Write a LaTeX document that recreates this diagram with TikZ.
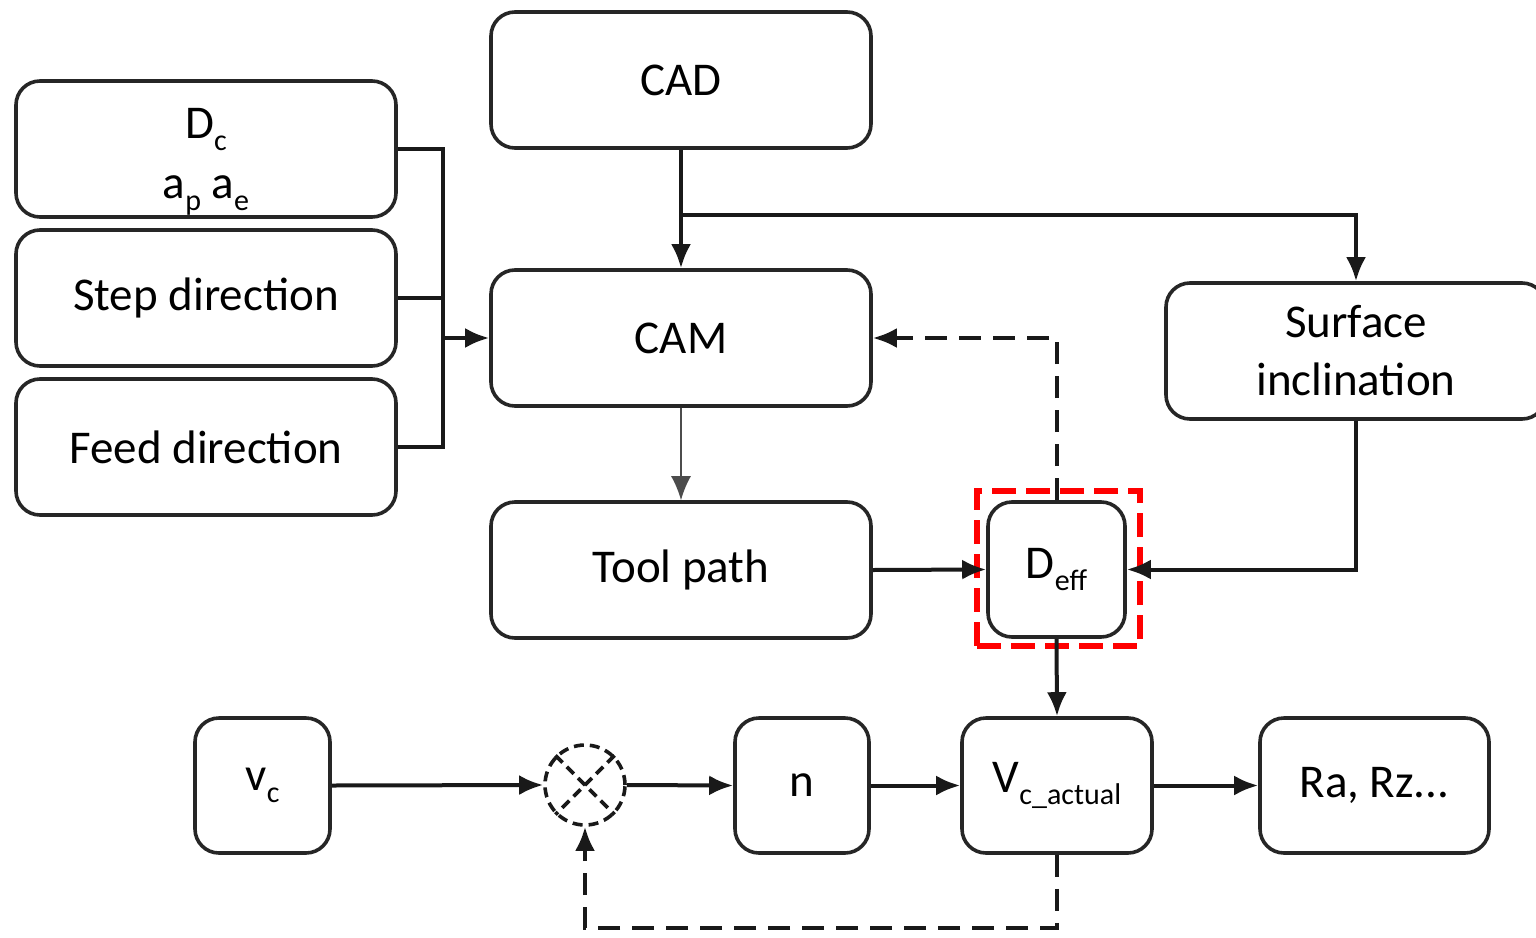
\documentclass[tikz,border=0pt]{standalone}
\usepackage{fontspec}
\setmainfont{Carlito}
\usetikzlibrary{arrows.meta,positioning}
\newcommand\lowsub[1]{\raisebox{-0.55ex}{\fontsize{15}{15}\selectfont #1}}
\tikzset{
  box/.style={draw=black!85, line width=1.8pt, rounded corners=12pt, fill=white,
    font=\fontsize{23.5}{29}\selectfont, align=center, inner sep=0pt},
  conn/.style={line width=2pt, draw=black!90, -{Latex[length=12pt,width=10pt]}},
  plain/.style={line width=2pt, draw=black!90},
  dashconn/.style={conn, dash pattern=on 11pt off 6pt},
}
\begin{document}
\begin{tikzpicture}[x=0.5pt,y=-0.5pt]
\useasboundingbox (0,0) rectangle (1536,937);
% boxes
\node[box, minimum width=190pt, minimum height=68pt] (dc) at (206,149) {\raisebox{-10pt}[0pt][0pt]{\begin{tabular}{@{}c@{}}D\lowsub{c}\\[1pt]a\lowsub{p} a\lowsub{e}\end{tabular}}};
\node[box, minimum width=190pt, minimum height=68pt] (step) at (206,298) {Step direction};
\node[box, minimum width=190pt, minimum height=68pt] (feed) at (206,447) {Feed direction};
\node[box, minimum width=190pt, minimum height=68pt] (cad) at (681,80) {CAD};
\node[box, minimum width=190pt, minimum height=68pt] (cam) at (681,338) {CAM};
\node[box, minimum width=190pt, minimum height=68pt] (tool) at (681,570) {Tool path};
\node[box, minimum width=190pt, minimum height=68pt] (surf) at (1356,351) {Surface\\inclination};
\node[box, minimum width=68.5pt, minimum height=67.5pt] (deff) at (1056.5,569.5) {D\lowsub{eff}};
\node[draw=red, line width=2.8pt, dash pattern=on 12pt off 5pt, minimum width=81.5pt, minimum height=77.5pt, inner sep=0pt] (red) at (1058.5,568.5) {};
\node[box, minimum width=67.5pt, minimum height=67.5pt] (vc) at (262.5,785.5) {v\lowsub{c}};
\node[draw=black!90, line width=1.8pt, dash pattern=on 5pt off 3pt, circle, minimum size=40pt, inner sep=0pt] (mul) at (585,785) {};
\node[box, minimum width=67pt, minimum height=67.5pt] (n) at (802,785.5) {n};
\node[box, minimum width=95pt, minimum height=67.5pt] (va) at (1057,785.5) {V\lowsub{c\_actual}};
\node[box, minimum width=114.5pt, minimum height=67.5pt] (ra) at (1374.5,785.5) {Ra, Rz...};
% cross in circle
\draw[line width=1.8pt, black!90, dash pattern=on 5pt off 3pt] (mul.north west) -- (mul.south east);
\draw[line width=1.8pt, black!90, dash pattern=on 5pt off 3pt] (mul.north east) -- (mul.south west);
% coordinates
\coordinate (jx) at (443,338);
\coordinate (a1) at (681,215);
\coordinate (f2) at (585,928);
% bracket
\draw[plain] (dc.east) -| (443,447) -- (feed.east);
\draw[plain] (step.east) -- (443,298);
\draw[conn] (jx) -- (cam.west);
% CAD
\draw[conn] (cad.south) -- (cam.north);
\draw[conn] (a1) -| (surf.north);
% CAM -> tool path
\draw[line width=0.9pt, draw=black!70, -{Latex[length=12pt,width=10pt]}] (cam.south) -- (tool.north);
% feedback dashed
\draw[dashconn] (deff.north) |- (cam.east);
\draw[conn] (tool.east) -- (deff.west);
\draw[conn] (surf.south) |- (deff.east);
\draw[conn] (deff.south) -- (va.north);
% bottom row
\draw[conn] (vc.east) -- (mul.west);
\draw[conn] (mul.east) -- (n.west);
\draw[conn] (n.east) -- (va.west);
\draw[conn] (va.east) -- (ra.west);
\draw[dashconn] (va.south) |- (f2) -- (mul.south);
\end{tikzpicture}
\end{document}
